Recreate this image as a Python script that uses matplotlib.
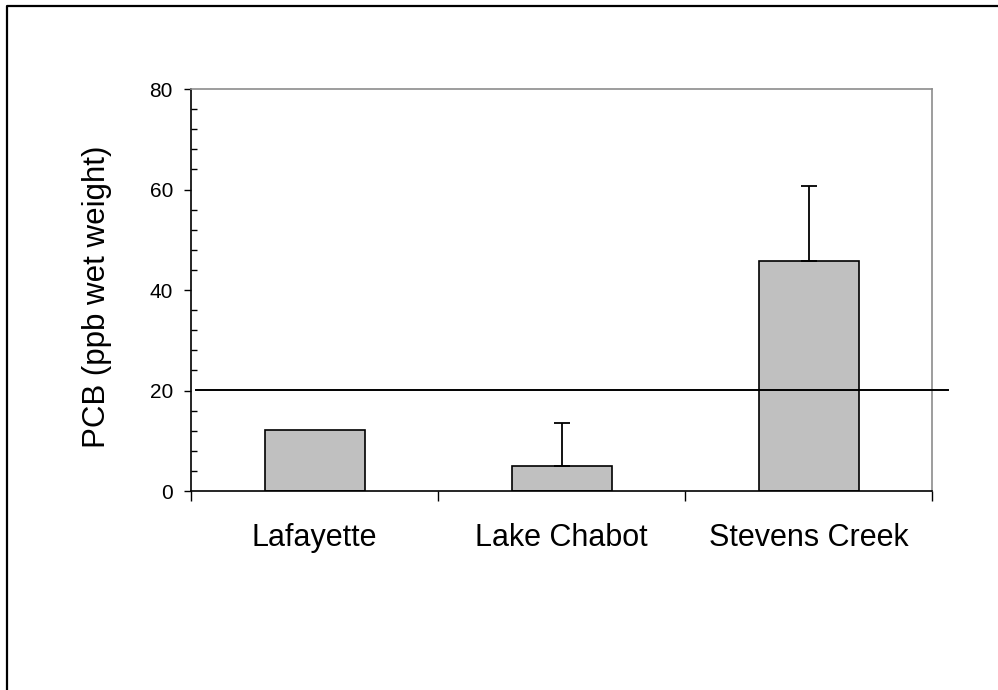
import numpy as np
import matplotlib
matplotlib.use('Agg')
from matplotlib import pyplot as plt
from matplotlib.lines import Line2D
from matplotlib.ticker import MultipleLocator

plt.rcParams['font.family'] = ['Liberation Sans', 'DejaVu Sans']

# Data
sites = ['Lafayette', 'Lake Chabot', 'Stevens Creek']
pcb_mean = [12.1, 5.0, 45.8]
pcb_err = [0.0, 8.6, 14.8]
guideline = 20.2

fig = plt.figure(figsize=(9.98, 6.9), dpi=100)
ax = fig.add_axes([0.1914, 0.2884, 0.7425, 0.5826])

x = np.arange(len(sites))
ax.bar(x, pcb_mean, width=0.405, color='#c0c0c0', edgecolor='black', linewidth=1.2, zorder=2)

# upper error bars only, skip sites with no spread
err = np.array(pcb_err)
has_err = err > 0
ax.errorbar(x[has_err], np.array(pcb_mean)[has_err], yerr=[np.zeros(has_err.sum()), err[has_err]],
            fmt='none', ecolor='black', elinewidth=1.3, capsize=6, capthick=1.3, zorder=3)

# horizontal reference line, runs a little past the right edge
ax.plot([-0.48, 2.565], [guideline, guideline], color='black', linewidth=1.4, clip_on=False, zorder=4)

ax.set_xlim(-0.5, 2.5)
ax.set_ylim(0, 80)
ax.yaxis.set_major_locator(MultipleLocator(20))
ax.yaxis.set_minor_locator(MultipleLocator(4))
ax.tick_params(axis='y', which='major', direction='out', length=5, width=1, labelsize=15, pad=8)
ax.tick_params(axis='y', which='minor', direction='in', length=4.3, width=1)

# category boundary ticks on x
ax.set_xticks([-0.5, 0.5, 1.5, 2.5])
ax.set_xticklabels([])
ax.tick_params(axis='x', which='major', direction='out', length=7.5, width=1)
for xi, s in zip(x, sites):
    ax.text(xi, -10.95, s, ha='center', va='baseline', fontsize=22)

ax.spines['left'].set_color('black')
ax.spines['bottom'].set_color('black')
ax.spines['top'].set_color('#8c8c8c')
ax.spines['right'].set_color('#8c8c8c')
for sp in ax.spines.values():
    sp.set_linewidth(1.2)

ax.set_ylabel('PCB (ppb wet weight)', fontsize=22.5)
ax.yaxis.set_label_coords(-0.107, 0.484)

# outer frame (left and top edges visible)
fig.add_artist(Line2D([0.0075, 0.0075, 1.0], [0.0, 0.9915, 0.9915], transform=fig.transFigure,
                      color='black', linewidth=1.6))

fig.savefig('out.png', dpi=100)
